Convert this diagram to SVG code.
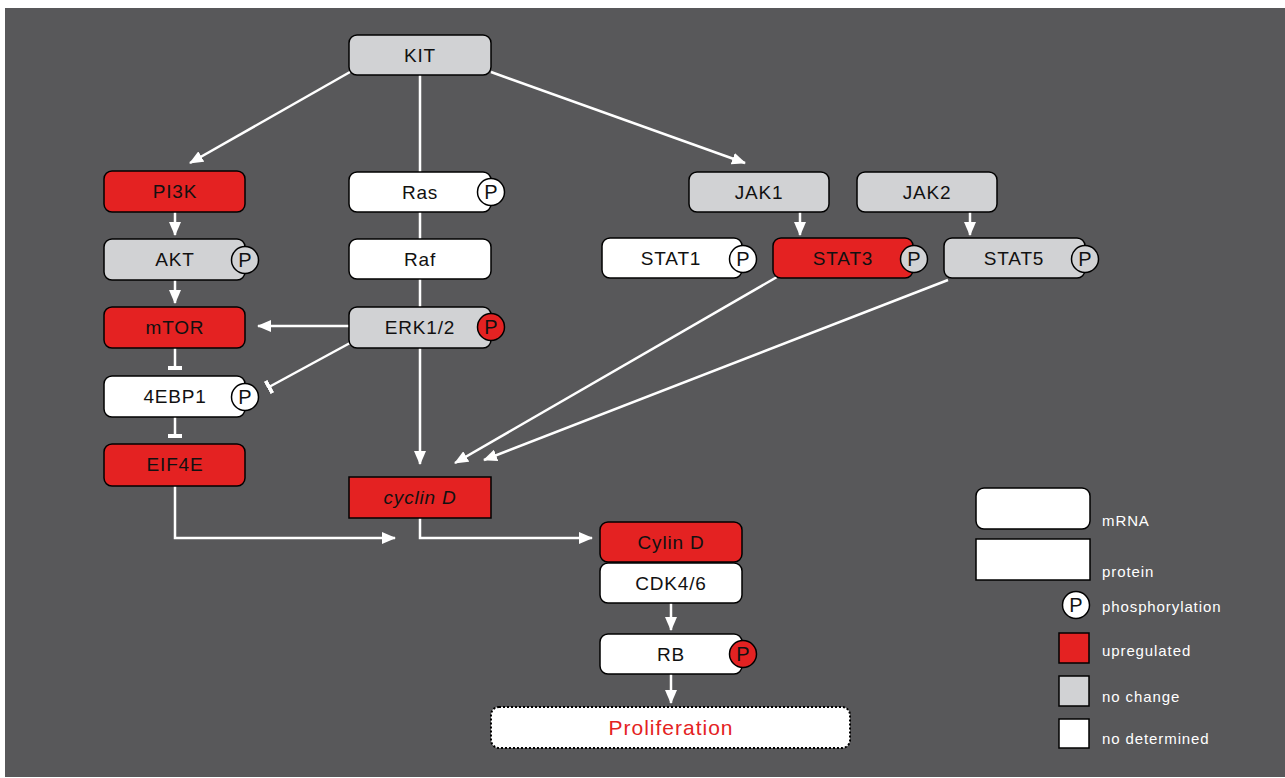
<svg xmlns="http://www.w3.org/2000/svg" width="1285" height="778" viewBox="0 0 1285 778">
<style>
.n{stroke:#000;stroke-width:1.5}
.r{fill:#E42222}
.g{fill:#D1D2D4}
.w{fill:#FFFFFF}
.t{font-family:"Liberation Sans",Arial,sans-serif;font-size:19px;letter-spacing:0.8px;fill:#111;text-anchor:middle}
.q{font-family:"Liberation Sans",Arial,sans-serif;font-size:20px;fill:#111;text-anchor:middle}
.p{font-family:"Liberation Sans",Arial,sans-serif;font-size:21px;letter-spacing:1px;fill:#E42222;text-anchor:middle}
.l{font-family:"Liberation Sans",Arial,sans-serif;font-size:15px;letter-spacing:0.9px;fill:#fff}
.c{fill:none;stroke:#fff;stroke-width:2.5}
</style>
<defs>
<marker id="a" viewBox="0 0 14 12" refX="13" refY="6" markerWidth="14" markerHeight="12" markerUnits="userSpaceOnUse" orient="auto">
<path d="M0,0 L14,6 L0,12 Z" fill="#fff"/>
</marker>
<marker id="b" viewBox="0 0 4 14" refX="2" refY="7" markerWidth="4" markerHeight="14" markerUnits="userSpaceOnUse" orient="auto">
<rect x="0" y="0" width="4" height="14" fill="#fff"/>
</marker>
</defs>
<rect x="0" y="0" width="1285" height="778" fill="#fff"/>
<rect x="5" y="8" width="1280" height="769" fill="#58585A"/>
<g id="connectors">
<line class="c" x1="420" y1="75" x2="420" y2="464" marker-end="url(#a)"/>
<line class="c" x1="350" y1="72" x2="190" y2="163" marker-end="url(#a)"/>
<line class="c" x1="491" y1="72" x2="745" y2="163" marker-end="url(#a)"/>
<line class="c" x1="175" y1="212" x2="175" y2="235" marker-end="url(#a)"/>
<line class="c" x1="175" y1="280" x2="175" y2="303" marker-end="url(#a)"/>
<line class="c" x1="349" y1="326" x2="258" y2="326" marker-end="url(#a)"/>
<line class="c" x1="175" y1="348" x2="175" y2="368" marker-end="url(#b)"/>
<line class="c" x1="350" y1="343" x2="269" y2="387" marker-end="url(#b)"/>
<line class="c" x1="175" y1="417" x2="175" y2="436" marker-end="url(#b)"/>
<polyline class="c" points="175,486 175,538 395,538" marker-end="url(#a)"/>
<polyline class="c" points="420,518 420,538 592,538" marker-end="url(#a)"/>
<line class="c" x1="777" y1="277" x2="455" y2="463" marker-end="url(#a)"/>
<line class="c" x1="948" y1="280" x2="484" y2="460" marker-end="url(#a)"/>
<line class="c" x1="800" y1="212" x2="800" y2="235" marker-end="url(#a)"/>
<line class="c" x1="970" y1="212" x2="970" y2="235" marker-end="url(#a)"/>
<line class="c" x1="671" y1="603" x2="671" y2="630" marker-end="url(#a)"/>
<line class="c" x1="671" y1="674" x2="671" y2="703" marker-end="url(#a)"/>
</g>
<g id="KIT"><rect class="n g" x="349" y="35" width="142" height="40" rx="8"/><text class="t" x="420" y="62">KIT</text></g>
<g id="PI3K"><rect class="n r" x="104" y="171" width="141" height="41" rx="8"/><text class="t" x="175" y="198">PI3K</text></g>
<g id="AKT"><rect class="n g" x="104" y="239" width="141" height="41" rx="8"/><text class="t" x="175" y="266">AKT</text><circle class="n g" cx="245" cy="260" r="13.5"/><text class="q" x="245" y="267">P</text></g>
<g id="mTOR"><rect class="n r" x="104" y="307" width="141" height="41" rx="8"/><text class="t" x="175" y="334">mTOR</text></g>
<g id="4EBP1"><rect class="n w" x="104" y="376" width="141" height="41" rx="8"/><text class="t" x="175" y="403">4EBP1</text><circle class="n w" cx="245" cy="397" r="13.5"/><text class="q" x="245" y="404">P</text></g>
<g id="EIF4E"><rect class="n r" x="104" y="444" width="141" height="42" rx="8"/><text class="t" x="175" y="471">EIF4E</text></g>
<g id="Ras"><rect class="n w" x="349" y="172" width="142" height="40" rx="8"/><text class="t" x="420" y="199">Ras</text><circle class="n w" cx="491" cy="192" r="13.5"/><text class="q" x="491" y="199">P</text></g>
<g id="Raf"><rect class="n w" x="349" y="239" width="142" height="40" rx="8"/><text class="t" x="420" y="266">Raf</text></g>
<g id="ERK12"><rect class="n g" x="349" y="307" width="142" height="41" rx="8"/><text class="t" x="420" y="334">ERK1/2</text><circle class="n r" cx="491" cy="327" r="13.5"/><text class="q" x="491" y="334">P</text></g>
<g id="cyclinD"><rect class="n r" x="349" y="477" width="142" height="41"/><text class="t" x="420" y="504" font-style="italic">cyclin D</text></g>
<g id="JAK1"><rect class="n g" x="689" y="172" width="140" height="40" rx="8"/><text class="t" x="759" y="199">JAK1</text></g>
<g id="JAK2"><rect class="n g" x="857" y="172" width="140" height="40" rx="8"/><text class="t" x="927" y="199">JAK2</text></g>
<g id="STAT1"><rect class="n w" x="602" y="238" width="140" height="40" rx="8"/><text class="t" x="671" y="265">STAT1</text><circle class="n w" cx="743" cy="259" r="13.5"/><text class="q" x="743" y="266">P</text></g>
<g id="STAT3"><rect class="n r" x="773" y="238" width="140" height="40" rx="8"/><text class="t" x="843" y="265">STAT3</text><circle class="n g" cx="914" cy="259" r="13.5"/><text class="q" x="914" y="266">P</text></g>
<g id="STAT5"><rect class="n g" x="944" y="238" width="141" height="40" rx="8"/><text class="t" x="1014" y="265">STAT5</text><circle class="n g" cx="1085" cy="259" r="13.5"/><text class="q" x="1085" y="266">P</text></g>
<g id="CylinD"><rect class="n r" x="600" y="522" width="142" height="40" rx="8"/><text class="t" x="671" y="549">Cylin D</text></g>
<g id="CDK46"><rect class="n w" x="600" y="563" width="142" height="40" rx="8"/><text class="t" x="671" y="590">CDK4/6</text></g>
<g id="RB"><rect class="n w" x="600" y="634" width="142" height="40" rx="8"/><text class="t" x="671" y="661">RB</text><circle class="n r" cx="743" cy="654" r="13.5"/><text class="q" x="743" y="661">P</text></g>
<g id="Proliferation"><rect x="491" y="707" width="359" height="41" rx="8" fill="#fff" stroke="#000" stroke-width="2" stroke-dasharray="2,2"/><text class="p" x="671" y="735">Proliferation</text></g>
<g id="legend">
<rect class="n w" x="976" y="488" width="114" height="41" rx="8"/><text class="l" x="1102" y="526">mRNA</text>
<rect class="n w" x="976" y="539" width="114" height="41"/><text class="l" x="1102" y="577">protein</text>
<circle class="n w" cx="1076" cy="605" r="13.5"/><text class="q" x="1076" y="612">P</text><text class="l" x="1102" y="612">phosphorylation</text>
<rect class="n r" x="1059" y="633" width="30" height="30"/><text class="l" x="1102" y="656">upregulated</text>
<rect class="n g" x="1059" y="676" width="30" height="30"/><text class="l" x="1102" y="702">no change</text>
<rect class="n w" x="1059" y="719" width="30" height="29"/><text class="l" x="1102" y="744">no determined</text>
</g>
</svg>
